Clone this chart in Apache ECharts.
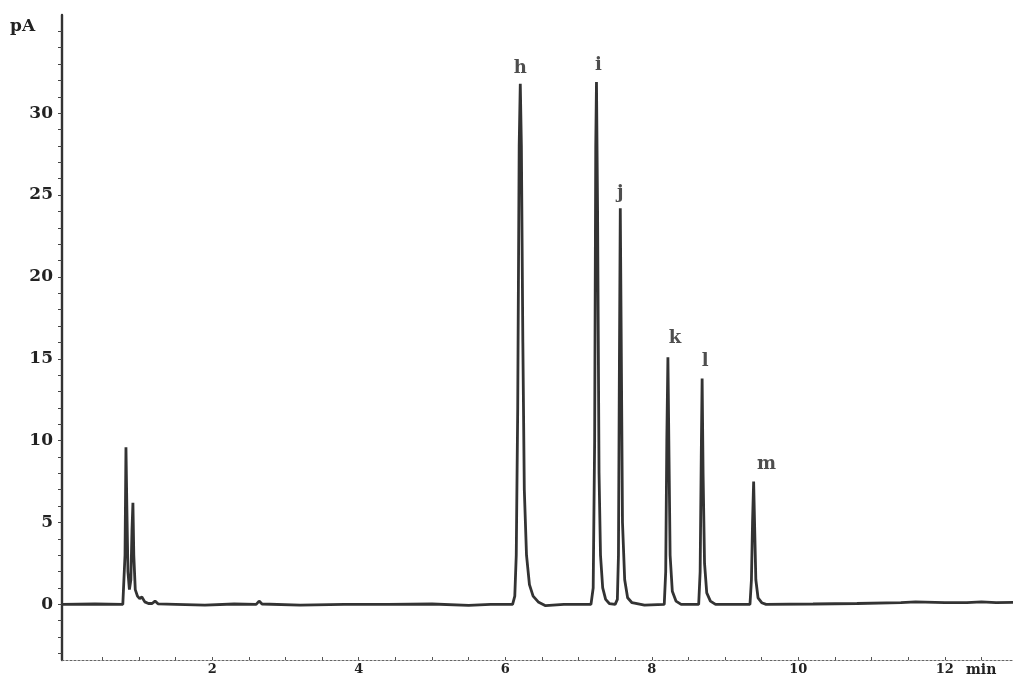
<!DOCTYPE html>
<html>
<head>
<meta charset="utf-8">
<script src="https://cdn.jsdelivr.net/npm/echarts@6/dist/echarts.min.js"></script>
<style>
  html, body { margin: 0; padding: 0; background: #fff; }
  #chart { width: 1013px; height: 678px; }
</style>
</head>
<body>
<div id="chart"></div>
<script>
// Retention time (min) / detector signal (pA) for each part of the trace
const solventFront = [
  [-0.05, 0], [0.4, 0.02], [0.78, 0], [0.80, 0.1], [0.81, 3.0], [0.823, 9.6], [0.835, 6.0],
  [0.85, 2.0], [0.87, 0.9], [0.89, 1.5], [0.905, 4.5], [0.918, 6.2], [0.93, 3.0],
  [0.95, 0.9], [0.98, 0.5], [1.01, 0.35], [1.04, 0.45], [1.08, 0.15], [1.13, 0.05],
  [1.18, 0.05], [1.22, 0.2], [1.26, 0.03], [1.5, 0.0], [1.9, -0.05], [2.3, 0.02],
  [2.6, 0.0], [2.64, 0.2], [2.68, 0.02], [3.2, -0.05], [3.8, 0.0], [4.4, 0.0],
  [5.0, 0.02], [5.5, -0.06], [5.8, 0.0], [6.10, 0.0]
];
const peakH = [
  [6.13, 0.5], [6.15, 3.0], [6.17, 12.0], [6.19, 28.0], [6.205, 31.8], [6.22, 28.0],
  [6.24, 16.0], [6.26, 7.0], [6.29, 3.0], [6.33, 1.2], [6.38, 0.5], [6.45, 0.15],
  [6.55, -0.08], [6.8, 0.0], [7.17, 0.0]
];
const peakI = [
  [7.20, 1.0], [7.22, 10.0], [7.235, 28.0], [7.245, 31.9], [7.26, 24.0], [7.28, 8.0],
  [7.30, 3.0], [7.33, 1.0], [7.37, 0.3], [7.42, 0.05], [7.50, 0.0]
];
const peakJ = [
  [7.53, 0.3], [7.545, 3.0], [7.557, 14.0], [7.57, 24.2], [7.583, 16.0], [7.60, 5.0],
  [7.63, 1.5], [7.67, 0.4], [7.73, 0.1], [7.9, -0.05], [8.17, 0.0]
];
const peakK = [
  [8.19, 2.0], [8.205, 10.0], [8.22, 15.1], [8.235, 9.0], [8.25, 3.0], [8.28, 0.8],
  [8.33, 0.2], [8.40, 0.0], [8.64, 0.0]
];
const peakL = [
  [8.66, 2.0], [8.675, 9.0], [8.687, 13.8], [8.70, 8.0], [8.72, 2.5], [8.75, 0.7],
  [8.80, 0.2], [8.87, 0.0], [9.34, 0.0]
];
const peakM = [
  [9.36, 1.5], [9.375, 5.0], [9.39, 7.5], [9.405, 4.5], [9.42, 1.5], [9.45, 0.4],
  [9.50, 0.1], [9.56, 0.0], [10.2, 0.02], [10.8, 0.05], [11.4, 0.1], [11.6, 0.15],
  [12.0, 0.1], [12.3, 0.1], [12.5, 0.15], [12.7, 0.1], [12.93, 0.12]
];

// Peak identifiers: [name, retention time, apex height]
const peakNames = ['h', 'i', 'j', 'k', 'l', 'm'];
const peakApex = [
  [6.205, 31.8], [7.245, 31.9], [7.57, 24.2], [8.22, 15.1], [8.687, 13.8], [9.39, 7.5]
];

// Axis ticks and labels
const xLabelValues = [2, 4, 6, 8, 10, 12];
const xTickValues = [0.5, 1, 1.5, 2, 2.5, 3, 3.5, 4, 4.5, 5, 5.5, 6, 6.5, 7, 7.5, 8, 8.5, 9, 9.5, 10, 10.5, 11, 11.5, 12, 12.5];
const yLabelValues = [0, 5, 10, 15, 20, 25, 30];
const yTickValues = [-3, -2, -1, 0, 1, 2, 3, 4, 5, 6, 7, 8, 9, 10, 11, 12, 13, 14, 15, 16, 17, 18, 19, 20,
  21, 22, 23, 24, 25, 26, 27, 28, 29, 30, 31, 32, 33, 34, 35];

const trace = [].concat(solventFront, peakH, peakI, peakJ, peakK, peakL, peakM);

const serif = '"DejaVu Serif", "Liberation Serif", serif';
const labelOffsets = [[0, -1], [2, -3], [0, -1], [7, -5], [3, -3], [13, -3]];

const chart = echarts.init(document.getElementById('chart'), null, { renderer: 'canvas' });
chart.setOption({
  backgroundColor: '#ffffff',
  animation: false,
  grid: { left: 62, right: 0, top: 15, bottom: 18, containLabel: false },
  xAxis: {
    type: 'value',
    min: -0.05,
    max: 12.93,
    axisLine: { show: true, onZero: false, lineStyle: { color: '#666', width: 1.2, type: [2, 2] } },
    axisTick: { show: true, inside: true, length: 3, customValues: xTickValues, lineStyle: { color: '#555' } },
    axisLabel: {
      customValues: xLabelValues, margin: 3,
      fontFamily: serif, fontWeight: 'bold', fontSize: 13, color: '#222'
    },
    splitLine: { show: false }
  },
  yAxis: {
    type: 'value',
    min: -3.4,
    max: 36,
    axisLine: { show: true, onZero: false, lineStyle: { color: '#333', width: 2.4 } },
    axisTick: { show: true, length: 4, customValues: yTickValues, lineStyle: { color: '#444' } },
    axisLabel: {
      customValues: yLabelValues, margin: 9,
      fontFamily: serif, fontWeight: 'bold', fontSize: 17, color: '#222'
    },
    splitLine: { show: false }
  },
  graphic: [
    { type: 'text', left: 10, top: 18, style: { text: 'pA', font: 'bold 17px ' + serif, fill: '#222' } },
    { type: 'text', left: 966, top: 663, style: { text: 'min', font: 'bold 14px ' + serif, fill: '#222' } }
  ],
  series: [
    {
      type: 'line',
      data: trace,
      showSymbol: false,
      smooth: false,
      lineStyle: { color: '#333', width: 2.8 },
      z: 3
    },
    {
      type: 'scatter',
      data: peakApex.map((p, idx) => ({
        value: p,
        name: peakNames[idx],
        label: { offset: labelOffsets[idx] }
      })),
      symbolSize: 0,
      label: {
        show: true,
        position: 'top',
        formatter: (p) => p.name,
        fontFamily: serif, fontWeight: 'bold', fontSize: 18, color: '#222'
      },
      z: 4
    }
  ]
});
</script>
</body>
</html>
